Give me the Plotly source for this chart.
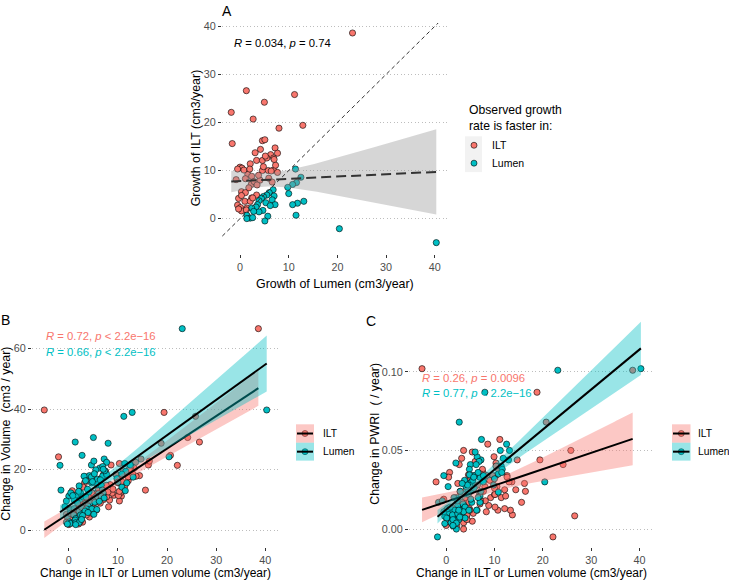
import numpy as np
import plotly.graph_objects as go

# ---------------- data (one entry per subject) ----------------
lumen_growth = [23.1, 1.3, 11.2, 5.0, -1.8, 2.7, 12.9, 8.0, -1.6, 4.6, 5.1, 4.2, 7.2, 7.7, 3.1, 6.3,
                0.0, 0.4, 2.1, 3.4, 4.6, 5.5, 6.9, -0.5, 1.6, 2.4, 4.6, 5.8, 6.9, -0.8, 7.7, 7.3,
                1.1, 2.3, 2.9, 1.8, 0.3, 1.1, 4.1, 5.9, 6.6, -0.3, 0.3, 2.4, 3.4, 1.0, -0.5, 0.1,
                2.1, 2.6, 0.3, -0.3, 1.4, 1.3, 4.8, 3.5, 5.2, 6.4, 0.8, 2.0, 7.0, 3.8,
                40.3, 20.4, 11.4, 12.5, 11.6, 10.8, 9.8, 10.0, 6.8, 6.0, 5.5, 4.8, 4.4, 7.0, 6.6, 3.9,
                5.3, 13.1, 11.8, 10.8, 3.6, 3.3, 7.2, 6.2, 2.4, 4.7, 3.9, 2.8, 1.4, 2.1, 11.5, 5.7,
                1.4, 5.1, 2.6]
ilt_growth = [38.6, 26.6, 25.8, 24.2, 22.1, 20.7, 19.4, 18.8, 15.6, 16.2, 16.4, 14.4, 14.7, 13.6, 13.7, 13.3,
              10.7, 10.5, 11.4, 12.1, 12.1, 12.6, 12.6, 10.3, 9.2, 8.8, 10.0, 10.0, 10.1, 8.1, 9.6, 11.1,
              8.3, 7.1, 7.7, 6.4, 5.6, 5.4, 8.0, 8.4, 7.6, 4.2, 4.8, 4.3, 4.9, 3.6, 2.8, 2.3,
              3.6, 4.3, 1.6, 2.0, 2.2, 1.8, 10.8, 7.0, 13.0, 9.9, 10.1, 10.3, 12.3, 9.0,
              -5.0, -2.1, 10.3, 8.6, 7.5, 7.1, 6.5, 5.2, 6.0, 5.4, 4.9, 4.6, 4.2, 4.7, 3.9, 3.7,
              3.3, 3.6, 3.2, 2.9, 2.9, 2.4, 2.9, 2.7, 2.2, 1.7, 1.4, 1.5, 0.7, 0.1, 0.7, 0.5,
              0.0, -0.5, 0.2]
volume_change = [66.6, 29.1, 37.6, 30.6, 21.4, 24.7, 38.9, 28.7, 13.2, 21.5, 22.8, 18.0, 23.5, 22.4, 17.8, 20.5,
                 11.2, 12.3, 14.6, 16.3, 17.6, 19.9, 21.0, 9.6, 11.5, 12.2, 15.6, 16.8, 17.9, 7.7, 18.4, 19.6,
                 9.9, 10.1, 11.0, 8.9, 6.6, 7.1, 12.6, 15.0, 14.8, 4.3, 5.5, 7.1, 8.8, 5.0, 2.6, 2.7,
                 6.2, 7.5, 2.2, 2.0, 3.8, 3.3, 16.0, 10.9, 18.6, 16.6, 11.4, 12.8, 20.1, 13.5,
                 39.7, 24.2, 22.0, 21.5, 19.4, 18.5, 17.0, 15.8, 13.2, 12.0, 11.0, 10.0, 9.0, 12.3, 11.1, 8.0,
                 9.2, 17.5, 15.6, 14.2, 7.0, 6.3, 10.6, 9.5, 5.0, 7.0, 5.8, 4.8, 2.4, 2.5, 13.0, 6.8,
                 1.8, 5.2, 3.5]
pwri_change = [0.101, 0.0084, 0.050, 0.041, -0.005, 0.068, 0.044, 0.087, 0.017, 0.029, 0.024, 0.025, 0.044, 0.030, 0.009, 0.012,
               0.012, 0.027, 0.020, 0.013, 0.025, 0.034, 0.033, 0.034, 0.020, 0.015, 0.022, 0.026, 0.022, 0.018, 0.034, 0.057,
               0.011, 0.018, 0.024, 0.012, 0.010, 0.005, 0.027, 0.034, 0.036, 0.008, 0.013, 0.009, 0.012, 0.004, 0.011, 0.007,
               0.000, 0.006, 0.013, 0.0035, 0.002, 0.009, 0.038, 0.016, 0.030, 0.046, 0.014, 0.042, 0.021, 0.031,
               0.102, 0.030, 0.040, 0.054, 0.038, 0.035, 0.028, 0.032, 0.043, 0.049, 0.031, 0.0345, 0.028, 0.017, 0.020, 0.014,
               0.017, 0.050, 0.045, 0.0235, 0.011, 0.029, 0.024, 0.041, 0.0097, 0.012, 0.007, 0.0076, 0.006, 0.0038, 0.036, 0.033,
               0.0023, 0.019, 0.012]

group_labels = ["ILT", "Lumen"]
group_colors = ["#F8766D", "#00BFC4"]
band_colors = ["rgba(248,118,109,0.4)", "rgba(0,191,196,0.4)"]

x_ticks = [0, 10, 20, 30, 40]
a_y_ticks = [0, 10, 20, 30, 40]
b_y_ticks = [0, 20, 40, 60]
c_y_ticks = [0.00, 0.05, 0.10]
c_y_ticklabels = ["0.00", "0.05", "0.10"]

stat_A = "<i>R</i> = 0.034, <i>p</i> = 0.74"
stat_B = ["<i>R</i> = 0.72, <i>p</i> &lt; 2.2e\u221216", "<i>R</i> = 0.66, <i>p</i> &lt; 2.2e\u221216"]
stat_C = ["<i>R</i> = 0.26, <i>p</i> = 0.0096", "<i>R</i> = 0.77, <i>p</i> &lt; 2.2e\u221216"]

L = np.array(lumen_growth, float)
I = np.array(ilt_growth, float)
V = np.array(volume_change, float)
P = np.array(pwri_change, float)

W, H = 729, 580
def px(x):
    return x / W
def py(y):
    return 1 - y / H

FONT = "Liberation Sans, Arial, sans-serif"
TICKFONT = dict(family=FONT, size=10.8, color="#4D4D4D")


def lm_band(x, y, n_pts=80):
    x = np.asarray(x, float)
    y = np.asarray(y, float)
    n = len(x)
    b, a = np.polyfit(x, y, 1)
    xs = np.linspace(x.min(), x.max(), n_pts)
    yhat = a + b * xs
    resid = y - (a + b * x)
    s = np.sqrt(np.sum(resid ** 2) / (n - 2))
    sxx = np.sum((x - x.mean()) ** 2)
    se = s * np.sqrt(1.0 / n + (xs - x.mean()) ** 2 / sxx)
    t = 1.9855
    return xs, yhat, yhat - t * se, yhat + t * se


fig = go.Figure()

def pts(x, y, color, xa, ya):
    fig.add_trace(go.Scatter(x=x, y=y, mode="markers", xaxis=xa, yaxis=ya, showlegend=False,
                             hoverinfo="skip",
                             marker=dict(size=6.2, color=color, line=dict(color="black", width=0.6))))

def band(xs, lo, hi, fill, xa, ya):
    fig.add_trace(go.Scatter(x=np.concatenate([xs, xs[::-1]]), y=np.concatenate([hi, lo[::-1]]),
                             mode="lines", fill="toself", fillcolor=fill, line=dict(width=0),
                             xaxis=xa, yaxis=ya, showlegend=False, hoverinfo="skip"))

def line(xs, ys, xa, ya, dash="solid", color="black", width=2):
    fig.add_trace(go.Scatter(x=xs, y=ys, mode="lines", line=dict(color=color, width=width, dash=dash),
                             xaxis=xa, yaxis=ya, showlegend=False, hoverinfo="skip"))

# ---------------- Panel A ----------------
faster_ilt = I > L
for gi, mask in enumerate([faster_ilt, ~faster_ilt]):
    pts(L[mask], I[mask], group_colors[gi], "x", "y")
xs, yh, lo, hi = lm_band(L, I)
band(xs, lo, hi, "rgba(153,153,153,0.4)", "x", "y")
line(xs, yh, "x", "y", dash="10px,5px", color="#333333", width=2)

# ---------------- Panel B & C ----------------
for (yv, xa, ya) in [(V, "x2", "y2"), (P, "x3", "y3")]:
    pts(I, yv, group_colors[0], xa, ya)
    pts(L, yv, group_colors[1], xa, ya)
    for gi, xv in enumerate([I, L]):
        xs, yh, lo, hi = lm_band(xv, yv)
        band(xs, lo, hi, band_colors[gi], xa, ya)
        line(xs, yh, xa, ya)

# ---------------- axes ----------------
def axis_common(**kw):
    d = dict(showline=False, zeroline=False, ticks="outside", ticklen=3, tickwidth=1,
             tickcolor="#333333", tickfont=TICKFONT, autorange=False, fixedrange=True)
    d.update(kw)
    return d

grid = dict(showgrid=True, gridcolor="#BDBDBD", griddash="1px,2.5px", gridwidth=1)

A_dom_x = [px(222), px(447)]
A_dom_y = [py(252), py(20)]
B_dom_x = [px(32), px(278)]
C_dom_x = [px(409), px(652)]
BC_dom_y = [py(546.5), py(317)]

fig.update_layout(
    xaxis=axis_common(domain=A_dom_x, anchor="y", range=[-3.7, 42.5], tickvals=x_ticks, showgrid=False),
    yaxis=axis_common(domain=A_dom_y, anchor="x", range=[-7.3, 40.7], tickvals=a_y_ticks, **grid),
    xaxis2=axis_common(domain=B_dom_x, anchor="y2", range=[-7.5, 42.6], tickvals=x_ticks, showgrid=False),
    yaxis2=axis_common(domain=BC_dom_y, anchor="x2", range=[-5.5, 70], tickvals=b_y_ticks, **grid),
    xaxis3=axis_common(domain=C_dom_x, anchor="y3", range=[-7.7, 42.6], tickvals=x_ticks, showgrid=False),
    yaxis3=axis_common(domain=BC_dom_y, anchor="x3", range=[-0.0112, 0.134], tickvals=c_y_ticks,
                       ticktext=c_y_ticklabels, **grid),
)

shapes = []
# y = x reference line in panel A
shapes.append(dict(type="line", xref="x", yref="y", x0=-20, y0=-20, x1=60, y1=60, layer="above",
                   line=dict(color="#333333", width=1, dash="4px,3px")))

annotations = []
def text(x, y, s, size=12.4, color="black", xanchor="center", yanchor="middle", angle=0, align="center",
         pad=1):
    annotations.append(dict(x=px(x), y=py(y), xref="paper", yref="paper", text=s, showarrow=False,
                            xanchor=xanchor, yanchor=yanchor, textangle=angle, align=align, borderpad=pad,
                            font=dict(family=FONT, size=size, color=color)))

# axis titles
text(334.5, 282, "Growth of Lumen (cm3/year)")
text(196, 136, "Growth of ILT (cm3/year)", angle=-90)
text(155, 581, "Change in ILT or Lumen volume (cm3/year)", size=12, yanchor="bottom", pad=0)
text(6, 433, "Change in Volume  (cm3 / year)", angle=-90)
text(531, 581, "Change in ILT or Lumen volume (cm3/year)", size=12, yanchor="bottom", pad=0)
text(375, 433, "Change in PWRI  ( / year)", angle=-90)

# panel labels
text(227, 8, "A", size=14)
text(5, 319, "B", size=14)
text(371, 320, "C", size=14)

# correlation labels
text(232, 40, stat_A, size=11.3, xanchor="left")
text(44, 335, stat_B[0], size=11.3, color=group_colors[0], xanchor="left")
text(44, 351, stat_B[1], size=11.3, color=group_colors[1], xanchor="left")
text(420, 377, stat_C[0], size=11.3, color=group_colors[0], xanchor="left")
text(420, 392, stat_C[1], size=11.3, color=group_colors[1], xanchor="left")

# ---------------- legends (drawn manually, ggplot style) ----------------
def circle(cx, cy, color, r=3):
    shapes.append(dict(type="circle", xref="paper", yref="paper", xsizemode="pixel", ysizemode="pixel",
                       xanchor=px(cx), yanchor=py(cy), x0=-r, x1=r, y0=-r, y1=r, layer="above",
                       fillcolor=color, line=dict(color="black", width=0.6)))

def rect(x0, y0, x1, y1, color):
    shapes.append(dict(type="rect", xref="paper", yref="paper", x0=px(x0), x1=px(x1), y0=py(y1), y1=py(y0),
                       layer="above", fillcolor=color, line=dict(width=0)))

def hline(x0, x1, y):
    shapes.append(dict(type="line", xref="paper", yref="paper", x0=px(x0), x1=px(x1), y0=py(y), y1=py(y),
                       layer="above", line=dict(color="black", width=2)))

# legend A
text(467, 115.5, "Observed growth<br>rate is faster in:", size=12.2, xanchor="left", align="left")
rect(465, 134, 482, 170, "#F2F2F2")
for gi, yy in enumerate([143, 161]):
    circle(474, yy, group_colors[gi])
    text(490, yy, group_labels[gi], size=10.5, xanchor="left")

# legends B and C
for (kx0, kx1, lx) in [(296, 314, 321), (672, 690.5, 696)]:
    for gi, (y0, y1) in enumerate([(423.5, 442), (442, 460)]):
        cy = (y0 + y1) / 2
        circle((kx0 + kx1) / 2, cy, group_colors[gi])
        rect(kx0, y0, kx1, y1, band_colors[gi])
        hline(kx0 + 1, kx1 - 1, cy)
        text(lx, cy, group_labels[gi], size=10.3, xanchor="left")

fig.update_layout(shapes=shapes, annotations=annotations, width=W, height=H, autosize=False,
                  margin=dict(l=0, r=0, t=0, b=0), paper_bgcolor="white", plot_bgcolor="white",
                  showlegend=False)

fig.write_html("out.html", config={"displayModeBar": False, "staticPlot": True},
               post_script="document.body.style.margin='0px';document.body.style.overflow='hidden';"
                           "document.documentElement.style.overflow='hidden';")
